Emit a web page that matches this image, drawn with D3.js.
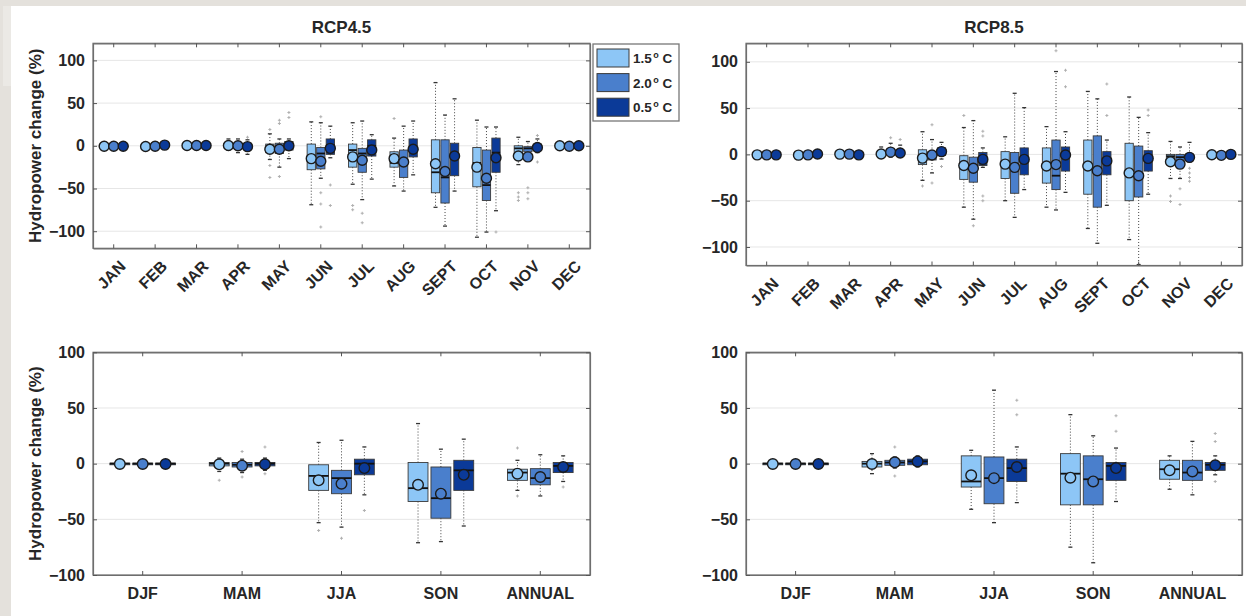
<!DOCTYPE html>
<html>
<head>
<meta charset="utf-8">
<script src="https://cdn.jsdelivr.net/npm/d3@7"></script>
<style>
  body { margin: 0; background: #fff; }
  svg { display: block; font-family: "Liberation Sans", Arial, Helvetica, sans-serif; }
</style>
</head>
<body>
<svg id="fig" width="1246" height="616"></svg>
<script>
// ---------- categories ----------
const months = ["JAN","FEB","MAR","APR","MAY","JUN","JUL","AUG","SEPT","OCT","NOV","DEC"];
const seasons = ["DJF","MAM","JJA","SON","ANNUAL"];
const scenarios = ["1.5", "2.0", "0.5"];           // warming levels (deg C)
const yTicksMonthly = [-100, -50, 0, 50, 100];
const yTicksSeasonal = [-100, -50, 0, 50, 100];

// ---------- RCP4.5, monthly (rows: 1.5, 2.0, 0.5 deg C) ----------
const rcp45MonLow  = [[-2,-2,-1.5,-5,-16,-69,-45,-47,-72,-107,-22,-2],
                      [-2,-2,-1.5,-8,-25,-38,-63,-53,-94,-101,-12,-2],
                      [-2,-1.5,-1.5,-10,-15,-14,-39,-34,-53,-76,-8,-2]];
const rcp45MonQ1   = [[-1,-1,-0.5,-1,-8,-28,-25,-25,-55,-48,-8,-1],
                      [-1,-1,-0.5,-1.5,-9,-27,-31,-37,-67,-64,-7,-1],
                      [-1,-0.5,-0.5,-2,-5,-10,-12,-13,-35,-31,-4,-1]];
const rcp45MonMed  = [[-0.5,-0.5,0,0,-4,-12,-5,-20,-31,-20,-3,0],
                      [-0.5,-0.5,0,0,-3,-9,-9,-22,-37,-46,-3,-0.5],
                      [-0.5,0.5,0,-0.5,0,1,0,-5,-11,-8,0,0]];
const rcp45MonQ3   = [[0,0,0.5,1.5,2,2,2,-7,7,-2,0,0.5],
                      [0,0,0.5,1.5,3,-2,-3,-5,7,-5,-1,0],
                      [0.5,1,0.5,1,5,8,7,8,3,9,2,0.5]];
const rcp45MonHigh = [[1.5,1.5,1.5,8,14,28,27,9,74,30,10,1.5],
                      [1.5,1.5,1.5,8,8,27,29,23,36,22,5,1.5],
                      [1.5,2,1.5,7,8,23,13,29,55,22,8,1.5]];
const rcp45MonMean = [[-0.5,-0.8,0.3,0.3,-4,-15,-13,-15,-21,-25,-12,0],
                      [-0.5,-0.5,0.3,0,-4,-18,-17,-19,-30,-38,-13,-0.5],
                      [-0.5,0.8,0.3,-1,0,-3,-5,-4,-12,-14,-2,0]];
const rcp45MonOut  = [[[],[],[],[],[19,-23,-37],[],[-70,-75],[32],[],[],[-55,-60,-64],[]],
                      [[],[],[],[],[26,30,-36],[34,-55,-68,-95],[-79,-90],[],[],[],[-49,-55,-62],[]],
                      [[],[],[],[10],[33,39],[-46,-70],[],[],[],[-101],[12,-19],[]]];

// ---------- RCP8.5, monthly ----------
const rcp85MonLow  = [[-2,-2,-1.5,-3,-28,-57,-50,-57,-80,-92,-26,-2],
                      [-2,-2,-1.5,-3,-20,-70,-68,-60,-96,-119,-26,-2],
                      [-2,-1.5,-2,-3,-5,-14,-38,-41,-55,-43,-8,-1.5]];
const rcp85MonQ1   = [[-1,-1,-0.5,-1,-11,-27,-26,-31,-43,-50,-6,-1],
                      [-1,-1,-0.5,0,-6,-30,-42,-38,-57,-46,-8,-1.5],
                      [-1,-0.5,-1,0,-1,-12,-22,-18,-22,-18,-4,-0.5]];
const rcp85MonMed  = [[-0.5,-0.5,0,0.5,-6,-13,-10,-12,-12,-20,-2,-0.3],
                      [-0.5,-0.5,0,2,-1,-15,-14,-23,-18,-23,-3,-1],
                      [-0.5,0.5,-0.5,1.5,3,-5,-5,0,-7,-4,-1,0]];
const rcp85MonQ3   = [[0,0,0.5,1.5,5,-1.4,3,7,15.5,12,0,0.5],
                      [0,0,0.5,4,3,-3,2,15.5,20,9,0,0],
                      [0.5,1,0.5,3,7,2,7,8,3,4,0,0.5]];
const rcp85MonHigh = [[1.5,1.5,1.5,8,24.5,29,19,30,68,62,14,1.5],
                      [1.5,1.5,1.5,12,16,36.5,66,89.5,60,40,8,1.5],
                      [1.5,2,1.5,10,13,7,50.5,24.5,15.5,23.5,13,1.5]];
const rcp85MonMean = [[-0.5,-0.8,0.3,0.5,-4,-12,-10.5,-12.6,-12.6,-20,-8,-0.3],
                      [-0.5,-0.5,0.3,2.5,-0.7,-15,-14,-11,-17.7,-23,-10.5,-1],
                      [-0.5,0.5,-0.5,1.5,3,-5.4,-5.4,-0.7,-7,-4.3,-3.2,0]];
const rcp85MonOut  = [[[],[],[],[],[-34],[42],[],[],[],[],[-45,-51],[]],
                      [[],[],[],[18],[32,-31],[-77],[],[112],[],[],[-37,-54],[]],
                      [[],[],[],[16],[-13],[25,20,-45,-50],[],[91,73],[76,42],[48,42],[-15,-20,-25,-29],[]]];

// ---------- RCP4.5, seasonal / annual ----------
const rcp45SeaLow  = [[-2,-7,-53,-71,-24],[-2,-8,-57,-70,-29],[-2,-6,-28,-56,-16]];
const rcp45SeaQ1   = [[-1,-2,-24,-34,-15],[-1,-3,-27,-49,-19],[-1,-2,-10,-24,-8]];
const rcp45SeaMed  = [[0,0,-11,-22,-8],[0,-1,-13,-31,-13],[0,0,0,-6,-2]];
const rcp45SeaQ3   = [[0.5,1,-1,1,-5],[0.5,1,-6,-3,-4.5],[0.5,1,4,3,1]];
const rcp45SeaHigh = [[2,5,19,36,3],[2,4,21,13,8],[2,5,15,22,7]];
const rcp45SeaMean = [[-0.3,-0.6,-15,-19,-9],[-0.3,-1.8,-18,-27,-12],[-0.3,-0.6,-4,-10,-3]];
const rcp45SeaOut  = [[[],[-15],[-60],[],[14,-29]],
                      [[],[11,-12],[-67],[],[]],
                      [[],[15,-9],[-42],[],[-21]]];

// ---------- RCP8.5, seasonal / annual ----------
const rcp85SeaLow  = [[-2,-9,-41,-75,-23],[-2,-4,-53,-89,-28],[-2,-3,-35,-34,-10]];
const rcp85SeaQ1   = [[-1,-3,-21,-37,-14],[-1,-1.5,-36,-37,-15],[-1,-1,-16,-15,-6]];
const rcp85SeaMed  = [[0,0,-16,-9,-5],[0,1,-13,-14,-8],[0,2,-4,-2,-1]];
const rcp85SeaQ3   = [[0.5,2,7,9,3],[0.5,3,6,7,3],[0.5,4,4,1,1]];
const rcp85SeaHigh = [[2,9,12,44,7],[2,6,66,25,20],[2,7,15,14,7]];
const rcp85SeaMean = [[-0.3,-0.3,-10.5,-12.6,-6],[-0.3,1.2,-13,-16,-7],[-0.3,2,-3,-4,-1.5]];
const rcp85SeaOut  = [[[],[],[],[],[]],
                      [[],[15,-11],[],[],[]],
                      [[],[],[44,57],[29,43],[20,27,-16]]];

// ---------- styling ----------
const fills = ["#8dc6f6", "#4a7fcc", "#0b3a98"];
const ink = "#262626";
const axisGray = "#6e6e6e";

const svg = d3.select("#fig");
svg.append("rect").attr("width", 1246).attr("height", 616).attr("fill", "#e4e1dc");
svg.append("rect").attr("x", 3).attr("y", 6).attr("width", 8).attr("height", 80).attr("fill", "#ebe9e5");
svg.append("rect").attr("x", 11).attr("y", 6).attr("width", 1235).attr("height", 610).attr("fill", "#fff");

function drawPanel(p) {
  const g = svg.append("g");
  const x = d3.scaleBand().domain(p.cats).range([p.left, p.right]).paddingInner(0).paddingOuter(0);
  const y = d3.scaleLinear().domain(p.yDomain).range([p.bottom, p.top]);
  const bw = x.bandwidth();
  const off = 0.23 * bw, boxW = 0.2 * bw;
  const cx = (c, s) => x(c) + bw / 2 + (s - 1) * off;

  // horizontal grid
  g.append("g").selectAll("line").data(p.yTicks).join("line")
    .attr("x1", p.left).attr("x2", p.right)
    .attr("y1", d => y(d)).attr("y2", d => y(d))
    .attr("stroke", "#e6e6e6").attr("stroke-width", 1);

  const marks = g.append("g");
  p.cats.forEach((c, i) => {
    scenarios.forEach((_, s) => {
      const xc = cx(c, s);
      const lo = p.low[s][i], q1 = p.q1[s][i], md = p.med[s][i], q3 = p.q3[s][i], hi = p.high[s][i];
      const m = marks.append("g");
      // whiskers
      m.append("line").attr("x1", xc).attr("x2", xc).attr("y1", y(q3)).attr("y2", y(hi))
        .attr("stroke", "#444").attr("stroke-width", 1).attr("stroke-dasharray", "1,2");
      m.append("line").attr("x1", xc).attr("x2", xc).attr("y1", y(q1)).attr("y2", y(lo))
        .attr("stroke", "#444").attr("stroke-width", 1).attr("stroke-dasharray", "1,2");
      [lo, hi].forEach(v => m.append("line")
        .attr("x1", xc - 2).attr("x2", xc + 2).attr("y1", y(v)).attr("y2", y(v))
        .attr("stroke", "#333").attr("stroke-width", 1.3));
      // outliers
      p.out[s][i].forEach(v => m.append("path")
        .attr("d", d3.symbol(d3.symbolCross, 5)())
        .attr("transform", `translate(${xc},${y(v)})`)
        .attr("fill", "#b0b0b0"));
      // box
      m.append("rect").attr("x", xc - boxW / 2).attr("width", boxW)
        .attr("y", y(q3)).attr("height", Math.max(y(q1) - y(q3), 1))
        .attr("fill", fills[s]).attr("stroke", "#3a3a3a").attr("stroke-width", 0.9);
      m.append("line").attr("x1", xc - boxW / 2).attr("x2", xc + boxW / 2)
        .attr("y1", y(md)).attr("y2", y(md))
        .attr("stroke", "#111").attr("stroke-width", 1.8);
      // mean
      m.append("circle").attr("cx", xc).attr("cy", y(p.mean[s][i])).attr("r", p.r)
        .attr("fill", fills[s]).attr("stroke", "#1b1b1b").attr("stroke-width", 1.4);
    });
  });

  // frame and inward ticks on all four sides
  g.append("rect").attr("x", p.left).attr("y", p.top)
    .attr("width", p.right - p.left).attr("height", p.bottom - p.top)
    .attr("fill", "none").attr("stroke", axisGray).attr("stroke-width", 1.2);

  const xb = g.append("g").attr("transform", `translate(0,${p.bottom})`)
    .call(d3.axisBottom(x).tickSize(-4).tickSizeOuter(0).tickPadding(13)
      .tickFormat(p.rotate ? "" : d => d));
  const xt = g.append("g").attr("transform", `translate(0,${p.top})`)
    .call(d3.axisTop(x).tickSize(-4).tickSizeOuter(0).tickFormat(""));
  const yl = g.append("g").attr("transform", `translate(${p.left},0)`)
    .call(d3.axisLeft(y).tickValues(p.yTicks).tickSize(-4).tickSizeOuter(0).tickPadding(8));
  const yr = g.append("g").attr("transform", `translate(${p.right},0)`)
    .call(d3.axisRight(y).tickValues(p.yTicks).tickSize(-4).tickSizeOuter(0).tickFormat(""));
  [xb, xt, yl, yr].forEach(a => {
    a.select(".domain").attr("stroke", axisGray).attr("stroke-width", 1.2);
    a.selectAll(".tick line").attr("stroke", "#555");
    a.selectAll("text").attr("fill", ink).attr("font-size", 16).attr("font-weight", "bold")
      .attr("font-family", "'Liberation Sans', Arial, sans-serif");
  });

  if (p.rotate) {
    g.append("g").selectAll("text").data(p.cats).join("text")
      .attr("transform", c => `translate(${x(c) + bw / 2 + 13},${p.bottom + 19}) rotate(-45)`)
      .attr("text-anchor", "end")
      .attr("font-size", 16).attr("font-weight", "bold").attr("fill", ink)
      .text(c => c);
  }

  if (p.title) {
    g.append("text").attr("x", (p.left + p.right) / 2).attr("y", 33)
      .attr("text-anchor", "middle").attr("font-size", 17).attr("font-weight", "bold")
      .attr("fill", ink).text(p.title);
  }
  if (p.ylabel) {
    g.append("text")
      .attr("transform", `translate(41,${(p.top + p.bottom) / 2}) rotate(-90)`)
      .attr("text-anchor", "middle").attr("font-size", 17).attr("font-weight", "bold")
      .attr("fill", ink).text(p.ylabel);
  }
}

const ylab = "Hydropower change (%)";
drawPanel({ cats: months, left: 93, right: 590, top: 43.3, bottom: 248.3, yDomain: [-120, 120],
  yTicks: yTicksMonthly, rotate: true, title: "RCP4.5", ylabel: ylab, r: 5,
  low: rcp45MonLow, q1: rcp45MonQ1, med: rcp45MonMed, q3: rcp45MonQ3, high: rcp45MonHigh,
  mean: rcp45MonMean, out: rcp45MonOut });
drawPanel({ cats: months, left: 746, right: 1242, top: 43.3, bottom: 265.5, yDomain: [-120, 120],
  yTicks: yTicksMonthly, rotate: true, title: "RCP8.5", r: 5,
  low: rcp85MonLow, q1: rcp85MonQ1, med: rcp85MonMed, q3: rcp85MonQ3, high: rcp85MonHigh,
  mean: rcp85MonMean, out: rcp85MonOut });
drawPanel({ cats: seasons, left: 93, right: 590, top: 352.3, bottom: 575, yDomain: [-100, 100],
  yTicks: yTicksSeasonal, rotate: false, ylabel: ylab, r: 5.3,
  low: rcp45SeaLow, q1: rcp45SeaQ1, med: rcp45SeaMed, q3: rcp45SeaQ3, high: rcp45SeaHigh,
  mean: rcp45SeaMean, out: rcp45SeaOut });
drawPanel({ cats: seasons, left: 746, right: 1242, top: 352.3, bottom: 575, yDomain: [-100, 100],
  yTicks: yTicksSeasonal, rotate: false, r: 5.3,
  low: rcp85SeaLow, q1: rcp85SeaQ1, med: rcp85SeaMed, q3: rcp85SeaQ3, high: rcp85SeaHigh,
  mean: rcp85SeaMean, out: rcp85SeaOut });

// legend
const lg = svg.append("g");
lg.append("rect").attr("x", 593).attr("y", 44).attr("width", 86).attr("height", 77)
  .attr("fill", "#fff").attr("stroke", "#777").attr("stroke-width", 1.3);
scenarios.forEach((lab, s) => {
  const y0 = 49 + s * 24.6;
  lg.append("rect").attr("x", 597).attr("y", y0).attr("width", 32).attr("height", 18)
    .attr("fill", fills[s]).attr("stroke", "#3a3a3a").attr("stroke-width", 1);
  const t = lg.append("text").attr("x", 633).attr("y", y0 + 14)
    .attr("font-size", 13.5).attr("font-weight", "bold").attr("fill", ink);
  t.append("tspan").text(lab);
  t.append("tspan").attr("font-size", 9).attr("dy", -5).attr("dx", 1.5).text("o");
  t.append("tspan").attr("dy", 5).text("\u00a0C");
});
</script>
</body>
</html>
